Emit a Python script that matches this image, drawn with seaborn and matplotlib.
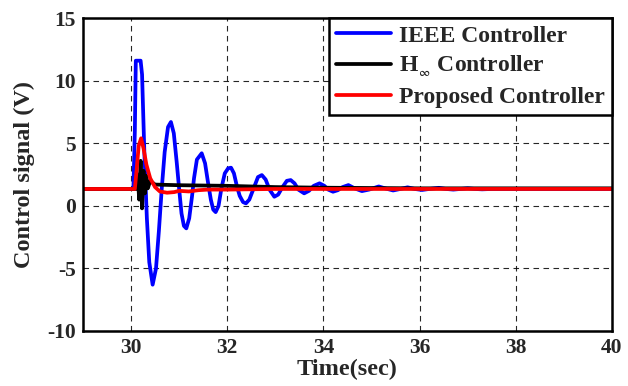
import numpy as np
import pandas as pd
import seaborn as sns
import matplotlib
matplotlib.use("Agg")
import matplotlib.pyplot as plt

# ---- data ----
ieee_t = [29.0, 30.05, 30.08, 30.10, 30.20, 30.23, 30.28, 30.33, 30.38, 30.45, 30.52, 30.58,
          30.64, 30.70, 30.77, 30.83, 30.89, 30.95, 31.00, 31.05, 31.10, 31.15, 31.21, 31.27,
          31.31, 31.37, 31.47, 31.54, 31.60, 31.66, 31.71, 31.76, 31.82, 31.88, 31.95, 32.02,
          32.08, 32.14, 32.20, 32.26, 32.33, 32.39, 32.46, 32.55, 32.64, 32.72, 32.80, 32.88,
          32.98, 33.06, 33.15, 33.24, 33.32, 33.40, 33.48, 33.60, 33.70, 33.80, 33.92, 34.02,
          34.10, 34.20, 34.30, 34.40, 34.52, 34.65, 34.80, 34.95, 35.15, 35.30, 35.45, 35.60,
          35.75, 35.90, 36.05, 36.20, 36.40, 36.55, 36.70, 36.85, 37.00, 37.15, 37.30, 37.50, 40.0]
ieee_v = [1.35, 1.35, 6.0, 11.6, 11.6, 10.5, 4.0, -1.0, -4.5, -6.3, -5.0, -2.0,
          1.4, 4.3, 6.3, 6.7, 5.8, 3.5, 1.4, -0.6, -1.6, -1.8, -1.0, 0.8,
          2.2, 3.7, 4.2, 3.4, 1.9, 0.5, -0.3, -0.5, 0.0, 1.4, 2.6, 3.0,
          3.05, 2.6, 1.6, 0.8, 0.3, 0.2, 0.5, 1.4, 2.3, 2.46, 2.1, 1.3,
          0.73, 0.9, 1.5, 2.0, 2.06, 1.8, 1.3, 1.0, 1.2, 1.6, 1.8, 1.6,
          1.3, 1.13, 1.25, 1.5, 1.66, 1.4, 1.18, 1.3, 1.55, 1.38, 1.23, 1.35,
          1.48, 1.35, 1.27, 1.35, 1.44, 1.35, 1.30, 1.35, 1.40, 1.35, 1.32, 1.35, 1.35]

hinf_t = [29.0, 30.10, 30.14, 30.17, 30.20, 30.23, 30.26, 30.29, 30.32, 30.35, 30.40, 30.50,
          31.0, 32.0, 33.0, 34.0, 36.0, 40.0]
hinf_v = [1.35, 1.35, 2.5, 0.5, 3.6, -0.2, 2.8, 1.0, 2.4, 1.4, 2.0, 1.7,
          1.65, 1.6, 1.5, 1.45, 1.4, 1.4]

prop_t = [29.0, 30.08, 30.12, 30.16, 30.21, 30.26, 30.32, 30.40, 30.50, 30.60, 30.75, 30.90,
          31.0, 31.2, 31.4, 31.6, 32.0, 33.0, 40.0]
prop_v = [1.35, 1.35, 3.0, 4.8, 5.4, 4.6, 3.3, 2.2, 1.5, 1.15, 1.05, 1.1,
          1.2, 1.15, 1.25, 1.3, 1.3, 1.35, 1.35]

labels = ["IEEE Controller", r"H$_{_{\infty}}$ Controller", "Proposed Controller"]
colors = ["#0000ff", "#000000", "#ff0000"]
x_ticks = [30, 32, 34, 36, 38, 40]
y_ticks = [-10, -5, 0, 5, 10, 15]

df = pd.concat([
    pd.DataFrame({"t": ieee_t, "v": ieee_v, "s": labels[0]}),
    pd.DataFrame({"t": hinf_t, "v": hinf_v, "s": labels[1]}),
    pd.DataFrame({"t": prop_t, "v": prop_v, "s": labels[2]}),
], ignore_index=True)

sns.set_style("white")
plt.rcParams["font.family"] = ["Liberation Serif", "DejaVu Serif"]
plt.rcParams["font.weight"] = "bold"
plt.rcParams["mathtext.fontset"] = "stix"
plt.rcParams["axes.unicode_minus"] = False

fig = plt.figure(figsize=(6.28, 3.86), dpi=100)
ax = fig.add_axes([0.132, 0.1425, 0.8425, 0.8105])

sns.lineplot(data=df, x="t", y="v", hue="s", hue_order=labels, palette=colors,
             sort=False, estimator=None, linewidth=2.7, ax=ax)

ax.set_xlim(29, 40)
ax.set_ylim(-10, 15)
ax.set_xticks(x_ticks)
ax.set_yticks(y_ticks)
ax.grid(True, color="black", linestyle=(0, (5, 4)), linewidth=0.8, alpha=0.85)
ax.tick_params(direction="in", length=4, width=1, labelsize=15.5, pad=5)
for lab in ax.get_xticklabels() + ax.get_yticklabels():
    lab.set_fontweight("bold")
for sp in ax.spines.values():
    sp.set_linewidth(1.8)
    sp.set_color("black")
ax.set_xlabel("Time(sec)", fontsize=17.5, fontweight="bold", labelpad=1)
ax.set_ylabel("Control signal (V)", fontsize=17.5, fontweight="bold", labelpad=9)

leg = ax.legend(loc="upper right", borderaxespad=0.0, fancybox=False, framealpha=1,
                edgecolor="black", prop={"size": 17, "weight": "bold"},
                handlelength=2.3, handletextpad=0.35, labelspacing=0.3, borderpad=0.3)
leg.get_frame().set_linewidth(1.8)
for line in leg.get_lines():
    line.set_linewidth(2.7)

fig.savefig("out.png", dpi=100)
